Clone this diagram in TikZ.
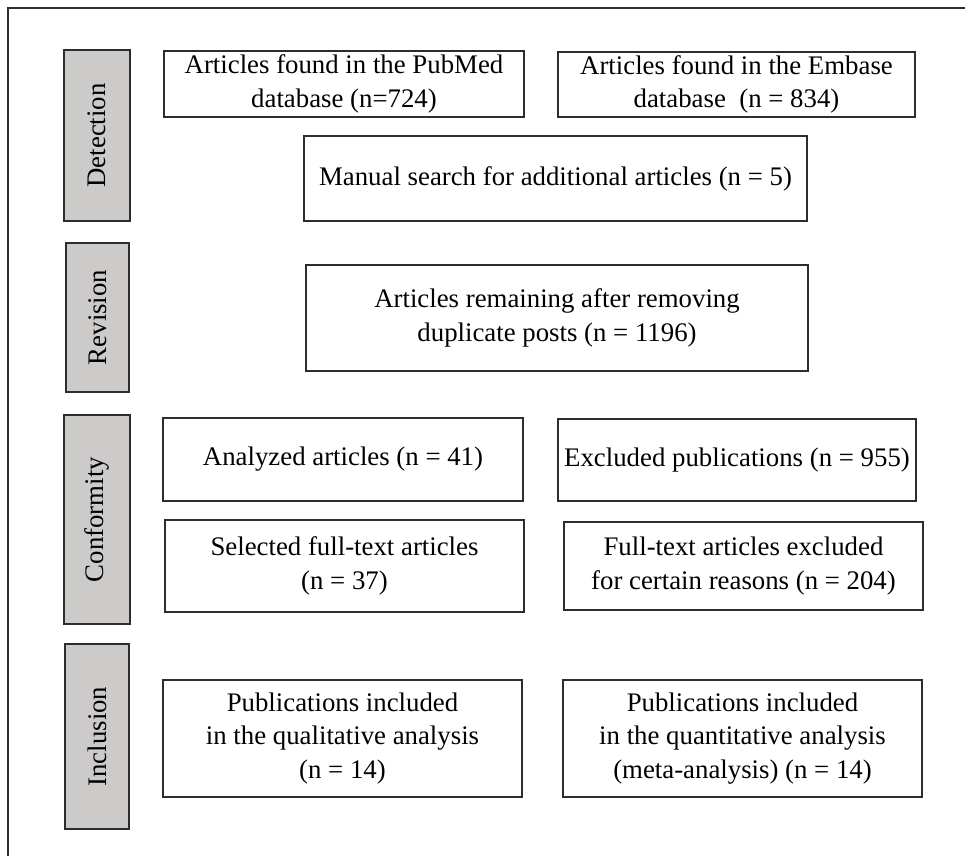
\documentclass[tikz,border=0pt]{standalone}
\usepackage{fontspec}
\setmainfont{Liberation Serif}
\usetikzlibrary{positioning}
\definecolor{stagegray}{RGB}{205,202,202}
\definecolor{linegray}{RGB}{45,45,45}

\begin{document}
\begin{tikzpicture}[x=0.5pt, y=-0.5pt, line width=0.8pt,
	box/.style={draw=linegray, align=center, inner sep=0pt, font=\fontsize{13.4}{16.8}\selectfont},
	stage/.style={box, fill=stagegray, rotate=90}]
	\useasboundingbox (0,0) rectangle (965,856);
	\draw[linegray, line width=0.6pt] (965,8) -- (8,8) -- (8,856);

	% stages
	\node[stage, minimum width=85.5pt, minimum height=33pt]   (detect)  at (97,135.5)  {Detection};
	\node[stage, minimum width=74.5pt, minimum height=31.5pt] (revis)   at (97.5,317.5) {Revision};
	\node[stage, minimum width=104.5pt, minimum height=33pt]  (conform) at (97,519.5)  {Conformity};
	\node[stage, minimum width=92.5pt, minimum height=32pt]   (incl)    at (97,736.5)  {Inclusion};

	% boxes
	\node[box, minimum width=180pt, minimum height=33pt]     (pubmed)  at (344,84)     {Articles found in the PubMed\\database (n=724)};
	\node[box, minimum width=178.5pt, minimum height=32.5pt] (embase)  at (736.5,84.5) {Articles found in the Embase\\database~ (n = 834)};
	\node[box, minimum width=251.5pt, minimum height=42.5pt] (manual)  at (555.5,178.5) {Manual search for additional articles (n = 5)};
	\node[box, minimum width=251pt, minimum height=53pt]     (remain)  at (557,318)    {Articles remaining after removing\\duplicate posts (n = 1196)};
	\node[box, minimum width=180pt, minimum height=41.5pt]   (analyz)  at (343,459.5)  {Analyzed articles (n = 41)};
	\node[box, minimum width=179pt, minimum height=41pt]     (exclpub) at (737,460)    {Excluded publications (n = 955)};
	\node[box, minimum width=179.5pt, minimum height=46pt]   (select)  at (344.5,566)  {Selected full-text articles\\(n = 37)};
	\node[box, minimum width=179.5pt, minimum height=44pt]   (exclfull) at (743.5,566) {Full-text articles excluded\\for certain reasons (n = 204)};
	\node[box, minimum width=179.5pt, minimum height=58.5pt] (qual)    at (342.5,738.5) {Publications included\\in the qualitative analysis\\(n = 14)};
	\node[box, minimum width=179.5pt, minimum height=58.5pt] (quant)   at (742.5,738.5) {Publications included\\in the quantitative analysis\\(meta-analysis) (n = 14)};
\end{tikzpicture}
\end{document}
